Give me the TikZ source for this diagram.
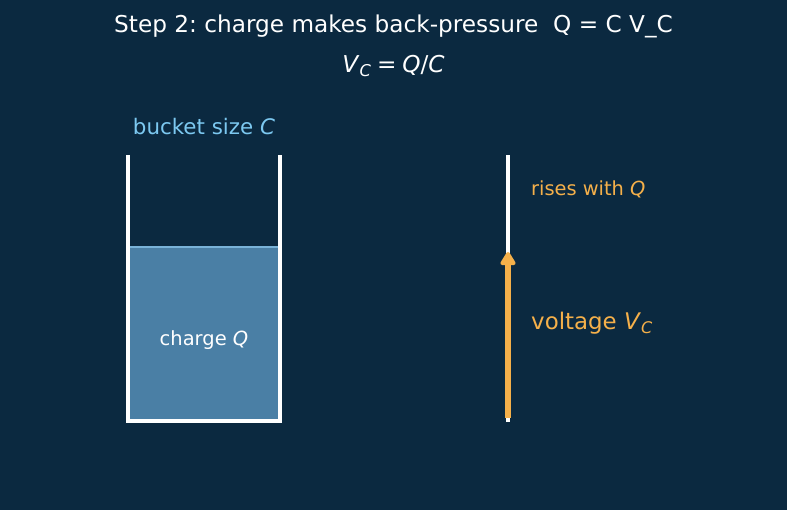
\documentclass[tikz,border=0pt]{standalone}
\usepackage{fontspec}
\setmainfont{DejaVu Sans}
\usepackage{tikz}
\usetikzlibrary{arrows.meta,positioning,calc}
\definecolor{cvBg}{HTML}{0B2940}
\definecolor{cvWater}{HTML}{4A7FA5}
\definecolor{cvSurface}{HTML}{79B2D8}
\definecolor{cvSky}{HTML}{7CC8F0}
\definecolor{cvAmber}{HTML}{F5B04A}
\tikzset{
  caption text/.style={text=white,inner sep=0pt,font=\fontsize{23.2}{26}\selectfont},
  bucket wall/.style={draw=white,line width=3.2pt},
  meter line/.style={draw=white,line width=3.2pt},
  rise arrow/.style={-{Triangle[length=15pt,width=17pt,round]},line width=5.5pt,draw=cvAmber},
  side label/.style={anchor=west,inner sep=0pt,text=cvAmber}
}
\frenchspacing
\begin{document}
\begin{tikzpicture}[x=1pt,y=-1pt]
\fill[cvBg] (0,0) rectangle (787,510);
\useasboundingbox (0,0) rectangle (787,510);
\node[caption text] (title) at (393.5,26) {Step 2: charge makes back-pressure\ \ Q = C V\_C};
\node[caption text] (formula) at (393.5,66) {\textit{V}\textsubscript{\textit{C}}\hspace{0.25em}=\hspace{0.25em}\textit{Q}/\textit{C}};
% bucket with charge
\fill[cvWater] (129.5,247) rectangle (278.5,419.5);
\draw[cvSurface,line width=1.2pt] (129.5,247) -- (278.5,247);
\draw[bucket wall] (128,155) -- (128,421) -- (280,421) -- (280,155);
\node[text=cvSky,inner sep=0pt,font=\fontsize{21.4}{24}\selectfont] (size) at (204,127) {bucket size \textit{C}};
\node[text=white,inner sep=0pt,font=\fontsize{19.5}{22}\selectfont] (charge) at (204,340) {charge \textit{Q}};
% voltage meter
\coordinate (meter top) at (508,155);
\coordinate (meter base) at (508,422);
\coordinate (arrow base) at (508,418);
\coordinate (level) at (508,252);
\draw[meter line] (meter base) -- (meter top);
\draw[rise arrow] (arrow base) -- (level);
\node[side label,font=\fontsize{19.4}{22}\selectfont] (rises) at (531,189) {rises with \textit{Q}};
\node[side label,font=\fontsize{22.9}{26}\selectfont] (voltage) at (531,323) {voltage \textit{V}\textsubscript{\textit{C}}};
\end{tikzpicture}
\end{document}
